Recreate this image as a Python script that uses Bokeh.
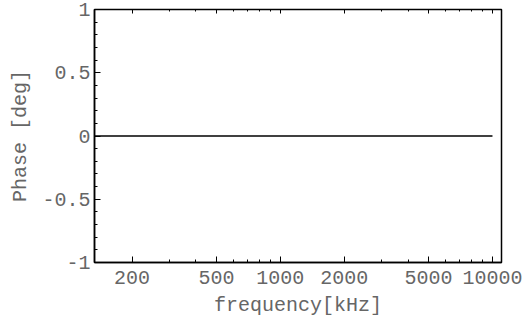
from bokeh.plotting import figure
from bokeh.models import FixedTicker, LogAxis, Range1d
from bokeh.embed import file_html
from bokeh.resources import INLINE

# data
freq_khz = [133, 10000]
phase_deg = [0.0, 0.0]
x_ticks = [200, 500, 1000, 2000, 5000, 10000]
x_minor = [300, 400, 600, 700, 800, 900, 3000, 4000, 6000, 7000, 8000, 9000]
y_ticks = [-1, -0.5, 0, 0.5, 1]
y_labels = {-1: "-1", -0.5: "-0.5", 0: "0", 0.5: "0.5", 1: "1"}
y_minor = [-0.9, -0.8, -0.7, -0.6, -0.4, -0.3, -0.2, -0.1, 0.1, 0.2, 0.3, 0.4, 0.6, 0.7, 0.8, 0.9]

FONT = "Liberation Mono"
TXT = "#666666"
FS = "20px"

p = figure(width=526, height=321, x_axis_type="log", output_backend="svg",
           toolbar_location=None, x_range=Range1d(133, 11030), y_range=Range1d(-1, 1),
           min_border_left=94, min_border_top=9, min_border_right=25, min_border_bottom=59,
           frame_width=407, frame_height=253)
p.grid.visible = False
p.outline_line_color = "black"
p.outline_line_width = 1.5
p.background_fill_color = "white"
p.border_fill_color = "white"

p.line(freq_khz, phase_deg, line_color="black", line_width=1.5)

xa = p.xaxis[0]
xa.ticker = FixedTicker(ticks=x_ticks, minor_ticks=x_minor)
xa.major_label_overrides = {t: str(t) for t in x_ticks}
xa.axis_label = "frequency[kHz]"

ya = p.yaxis[0]
ya.ticker = FixedTicker(ticks=y_ticks, minor_ticks=y_minor)
ya.major_label_overrides = y_labels
ya.axis_label = "Phase [deg]"

for ax in (xa, ya):
    ax.major_tick_in = 6
    ax.major_tick_out = 0
    ax.minor_tick_in = 3
    ax.minor_tick_out = 0
    ax.axis_line_color = "black"
    ax.axis_line_width = 1.5
    ax.major_label_text_font = FONT
    ax.major_label_text_font_size = FS
    ax.major_label_text_color = TXT
    ax.axis_label_text_font = FONT
    ax.axis_label_text_font_size = FS
    ax.axis_label_text_color = TXT
    ax.axis_label_text_font_style = "normal"

xa.major_label_standoff = 8
xa.axis_label_standoff = 7
ya.major_label_standoff = 4
ya.axis_label_standoff = 7

top = LogAxis(ticker=FixedTicker(ticks=x_ticks, minor_ticks=x_minor))
top.major_label_overrides = {t: "" for t in x_ticks}
top.major_label_text_font_size = "1px"
top.major_label_standoff = 0
top.major_tick_in = 4
top.major_tick_out = 0
top.minor_tick_in = 2
top.minor_tick_out = 0
top.axis_line_color = None
p.add_layout(top, "above")

out = file_html(p, INLINE)
open("out.html", "w").write(out)
